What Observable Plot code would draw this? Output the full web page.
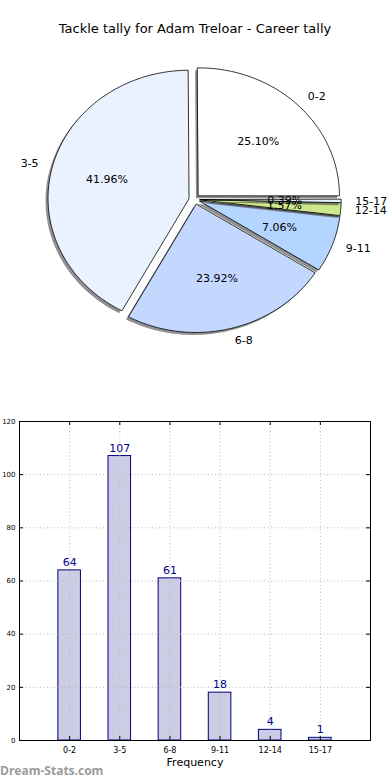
<!DOCTYPE html>
<html>
<head>
<meta charset="utf-8">
<script src="https://cdn.jsdelivr.net/npm/d3@7"></script>
<script src="https://cdn.jsdelivr.net/npm/@observablehq/plot@0.6"></script>
<style>
  html, body { margin: 0; padding: 0; background: #fff; }
  #wrap { position: relative; width: 390px; height: 780px; overflow: hidden; font-family: "DejaVu Sans", sans-serif; }
  #title { position: absolute; top: 21px; left: 0; width: 390px; text-align: center; font-size: 13px; color: #000; }
  #pie { position: absolute; top: 0; left: 0; }
  #bar { position: absolute; top: 410px; left: 0; }
  #mark { position: absolute; left: 0; top: 762px; font-family: "Open Sans", sans-serif; font-weight: bold; font-size: 12px; color: #9a9a9a; }
</style>
</head>
<body>
<div id="wrap">
  <div id="pie"></div>
  <div id="title">Tackle tally for Adam Treloar - Career tally</div>
  <div id="bar"></div>
  <div id="mark">Dream-Stats.com</div>
</div>
<script>
// ---- data ----
const categories = ["0-2", "3-5", "6-8", "9-11", "12-14", "15-17"];
const counts = [64, 107, 61, 18, 4, 1];
const sliceColors = ["#ffffff", "#eaf1ff", "#c4d8ff", "#b4d5ff", "#cce88a", "#e2f2ff"];
const yTicks = [0, 20, 40, 60, 80, 100, 120];

// ---- pie ----
const W = 390, PH = 370;
const cx = 194, cy = 199, rx = 141, ry = 128, explode = 0.04;
const total = d3.sum(counts);
const slices = [];
let start = 0;
counts.forEach((c, i) => {
  const frac = c / total;
  const a0 = start * 2 * Math.PI, a1 = (start + frac) * 2 * Math.PI;
  const mid = (a0 + a1) / 2;
  slices.push({i, cat: categories[i], frac, a0, a1, mid,
    ox: explode * Math.cos(mid), oy: explode * Math.sin(mid)});
  start += frac;
});

const pts = [];
slices.forEach(s => {
  const n = Math.max(2, Math.ceil((s.a1 - s.a0) / (Math.PI / 180)));
  const poly = [[s.ox, s.oy]];
  for (let k = 0; k <= n; k++) {
    const a = s.a0 + (s.a1 - s.a0) * k / n;
    poly.push([s.ox + Math.cos(a), s.oy + Math.sin(a)]);
  }
  const sdx = -2.5 / rx, sdy = -2.5 / ry;
  poly.forEach(p => pts.push({z: "s" + s.i, x: p[0] + sdx, y: p[1] + sdy, fill: "rgba(70,70,70,0.6)", stroke: "rgba(70,70,70,0)"}));
  poly.forEach(p => pts.push({z: "w" + s.i, x: p[0], y: p[1], fill: sliceColors[s.i], stroke: "#000"}));
});

const outer = slices.map(s => ({
  cat: s.cat,
  x: s.ox + 1.1 * Math.cos(s.mid),
  y: s.oy + 1.1 * Math.sin(s.mid),
  right: Math.cos(s.mid) >= 0
}));
const inner = slices.map(s => ({
  lab: (s.frac * 100).toFixed(2) + "%",
  x: s.ox + 0.6 * Math.cos(s.mid),
  y: s.oy + 0.6 * Math.sin(s.mid)
}));

const pie = Plot.plot({
  width: W, height: PH,
  margin: 0,
  x: {domain: [(0 - cx) / rx, (W - cx) / rx], range: [0, W], axis: null},
  y: {domain: [(cy - PH) / ry, cy / ry], range: [PH, 0], axis: null},
  color: {type: "identity"},
  style: {fontFamily: "DejaVu Sans, sans-serif", background: "transparent"},
  marks: [
    Plot.line(pts, {x: "x", y: "y", z: "z", fill: "fill", stroke: "stroke", strokeWidth: 0.8, curve: "linear-closed"}),
    Plot.text(outer.filter(d => d.right), {x: "x", y: "y", text: "cat", textAnchor: "start", fontSize: 11, fill: "#000"}),
    Plot.text(outer.filter(d => !d.right), {x: "x", y: "y", text: "cat", textAnchor: "end", fontSize: 11, fill: "#000"}),
    Plot.text(inner, {x: "x", y: "y", text: "lab", fontSize: 11, fill: "#000"})
  ]
});
document.getElementById("pie").appendChild(pie);

// ---- bar ----
const bars = categories.map((c, i) => ({i, cat: c, v: counts[i]}));
const idx = categories.map((c, i) => i);
const BH = 370, mTop = 11, mBot = 40, mLeft = 19, mRight = 20;
const yPerPx = 120 / (BH - mTop - mBot);
const xPerPx = 7 / (W - mLeft - mRight);
const tl = 4;

const bar = Plot.plot({
  width: W, height: BH,
  marginTop: mTop, marginBottom: mBot, marginLeft: mLeft, marginRight: mRight,
  x: {type: "linear", domain: [-1, 6], axis: null},
  y: {domain: [0, 120], axis: null},
  style: {fontFamily: "DejaVu Sans, sans-serif", background: "transparent"},
  marks: [
    Plot.rect(bars, {x1: d => d.i - 0.225, x2: d => d.i + 0.225, y1: 0, y2: "v", fill: "#ccccE4", stroke: "#000080", strokeWidth: 1}),
    Plot.ruleX(idx, {x: d => d, y1: 0, y2: 120, stroke: "#b8b8b8", strokeDasharray: "1,2.5", strokeWidth: 1}),
    Plot.ruleY(yTicks, {y: d => d, x1: -1, x2: 6, stroke: "#b8b8b8", strokeDasharray: "1,2.5", strokeWidth: 1}),
    Plot.ruleY(yTicks, {y: d => d, x1: -1, x2: -1 + tl * xPerPx, stroke: "#000"}),
    Plot.ruleY(yTicks, {y: d => d, x1: 6 - tl * xPerPx, x2: 6, stroke: "#000"}),
    Plot.ruleX(idx, {x: d => d, y1: 0, y2: tl * yPerPx, stroke: "#000"}),
    Plot.ruleX(idx, {x: d => d, y1: 120 - tl * yPerPx, y2: 120, stroke: "#000"}),
    Plot.frame({stroke: "#000", strokeWidth: 1}),
    Plot.text(bars, {x: "i", y: "v", text: d => String(d.v), dy: -8, fontSize: 11, fill: "#00008b"}),
    Plot.axisY(yTicks, {anchor: "left", tickSize: 0, tickPadding: 4, fontSize: 7, tickFormat: d => d, label: null}),
    Plot.axisX(idx, {anchor: "bottom", tickSize: 0, tickPadding: 7, fontSize: 8, tickFormat: d => categories[d], label: null}),
    Plot.text(["Frequency"], {frameAnchor: "bottom", dy: 25, fontSize: 11, fill: "#000"})
  ]
});
document.getElementById("bar").appendChild(bar);
</script>
</body>
</html>
